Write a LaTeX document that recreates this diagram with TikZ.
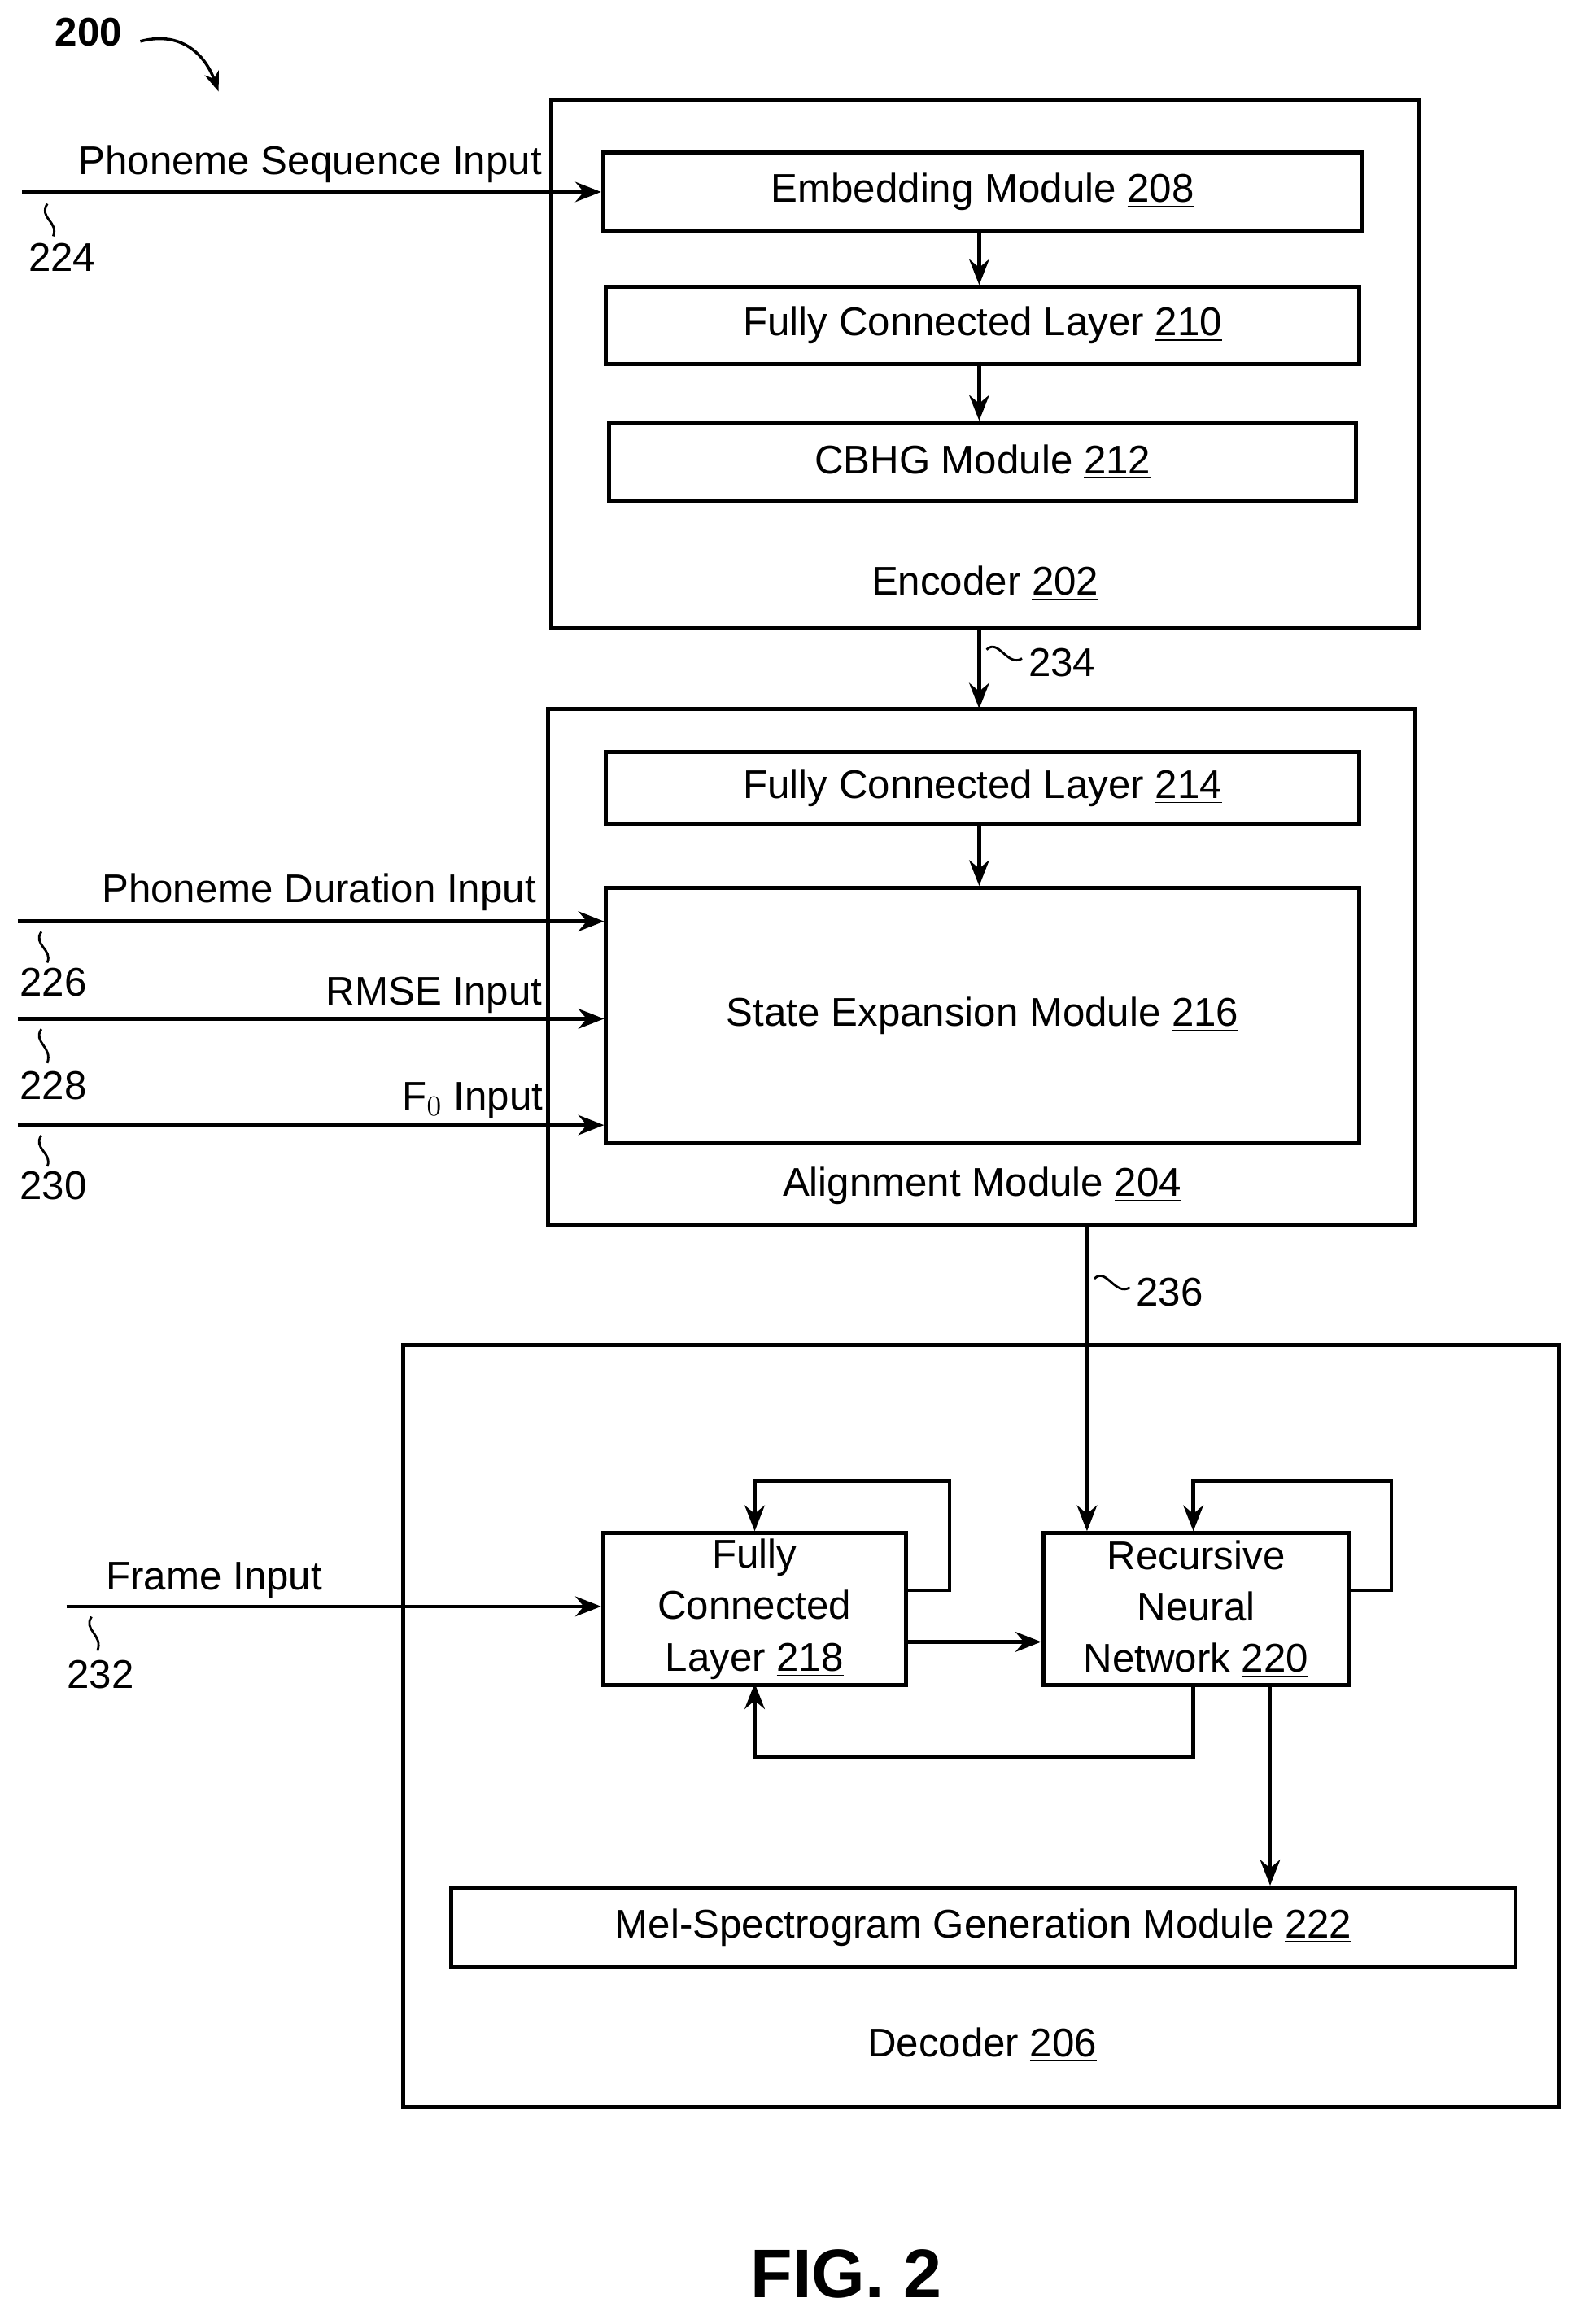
\documentclass[tikz,border=0pt]{standalone}
\usepackage{fontspec}
\setmainfont{Liberation Sans}
\usetikzlibrary{arrows.meta}
\begin{document}
\begin{tikzpicture}[x=0.01815cm,y=-0.01815cm,
 box/.style={draw,line width=1.4pt},
 lbl/.style={font=\fontsize{14}{16}\selectfont,inner sep=0pt},
 arr/.style={line width=1.3pt,-{Stealth[length=9pt,width=7pt]}},
 ln/.style={line width=1.3pt},
 sq/.style={line width=0.8pt}]
\useasboundingbox (0,0) rectangle (1073,1574);
\newcommand{\num}[1]{\underline{#1}}
% Encoder
\draw[box] (373,68) rectangle (961,425);
\node[box,minimum width=514*0.01815cm,minimum height=53*0.01815cm,anchor=north west,lbl] (emb) at (407,102) {Embedding Module \num{208}};
\node[box,minimum width=510*0.01815cm,minimum height=52*0.01815cm,anchor=north west,lbl] (fc210) at (409,193) {Fully Connected Layer \num{210}};
\node[box,minimum width=506*0.01815cm,minimum height=53*0.01815cm,anchor=north west,lbl] (cbhg) at (411,285) {CBHG Module \num{212}};
\node[lbl] (enc) at (667,395) {Encoder \num{202}};
\draw[arr] (663,155) -- (663,193);
\draw[arr] (663,245) -- (663,285);
% Alignment
\draw[box] (371,480) rectangle (958,830);
\node[box,minimum width=510*0.01815cm,minimum height=49*0.01815cm,anchor=north west,lbl] (fc214) at (409,508) {Fully Connected Layer \num{214}};
\node[box,minimum width=510*0.01815cm,minimum height=173*0.01815cm,anchor=north west,lbl] (state) at (409,600) {State Expansion Module \num{216}};
\node[lbl] (ali) at (665,803) {Alignment Module \num{204}};
\draw[arr] (663,557) -- (663,600);
\draw[arr] (663,425) -- (663,480);
\draw[sq] (668,440) .. controls (676,432) and (682,452) .. (692,446);
\node[lbl,anchor=west] (n234) at (696,449) {234};
% inputs
\coordinate (s224) at (15,130);
\draw[arr] (s224) -- (407,130);
\node[lbl] at (210,111) {Phoneme Sequence Input};
\draw[sq] (32,138) .. controls (26,148) and (40,150) .. (36,160);
\node[lbl] at (42,174) {224};
\coordinate (s226) at (12,624);
\draw[arr] (s226) -- (409,624);
\node[lbl] at (216,604) {Phoneme Duration Input};
\draw[sq] (28,631) .. controls (22,640) and (36,643) .. (32,652);
\node[lbl] at (36,665) {226};
\coordinate (s228) at (12,690);
\draw[arr] (s228) -- (409,690);
\node[lbl] at (294,674) {RMSE Input};
\draw[sq] (28,697) .. controls (22,706) and (36,709) .. (32,720);
\node[lbl] at (36,735) {228};
\coordinate (s230) at (12,762);
\draw[arr] (s230) -- (409,762);
\node[lbl] at (320,745) {F$_0$ Input};
\draw[sq] (28,769) .. controls (22,778) and (36,781) .. (32,790);
\node[lbl] at (36,803) {230};
% Decoder
\draw[box] (273,911) rectangle (1056,1427);
\node[box,minimum width=205*0.01815cm,minimum height=103*0.01815cm,anchor=north west,lbl,align=center] (fc218) at (407,1037) {Fully\\[2pt]Connected\\[2pt]Layer \num{218}};
\node[box,minimum width=207*0.01815cm,minimum height=103*0.01815cm,anchor=north west,lbl,align=center] (rnn) at (705,1037) {Recursive\\[2pt]Neural\\[2pt]Network \num{220}};
\node[box,minimum width=721*0.01815cm,minimum height=54*0.01815cm,anchor=north west,lbl] (mel) at (304,1277) {Mel-Spectrogram Generation Module \num{222}};
\node[lbl] (dec) at (665,1385) {Decoder \num{206}};
\draw[arr] (736,830) -- (736,1037);
\draw[sq] (741,866) .. controls (749,858) and (755,878) .. (765,872);
\node[lbl,anchor=west] at (769,875) {236};
\draw[arr] (612,1077) -- (643,1077) -- (643,1003) -- (511,1003) -- (511,1037);
\draw[arr] (912,1077) -- (942,1077) -- (942,1003) -- (808,1003) -- (808,1037);
\draw[arr] (612,1112) -- (705,1112);
\draw[arr] (808,1140) -- (808,1190) -- (511,1190) -- (511,1140);
\draw[arr] (860,1140) -- (860,1277);
\coordinate (s232) at (45,1088);
\draw[arr] (s232) -- (407,1088);
\node[lbl] at (145,1070) {Frame Input};
\draw[sq] (62,1095) .. controls (56,1104) and (70,1107) .. (66,1118);
\node[lbl] at (68,1134) {232};
% title
\node[lbl,font=\bfseries\fontsize{14}{16}\selectfont] at (60,22) {200};
\draw[line width=1pt,-{Stealth[length=7pt]}] (95,28) .. controls (125,20) and (140,40) .. (148,62);
\node[font=\bfseries\fontsize{24}{28}\selectfont] at (573,1540) {FIG. 2};
\end{tikzpicture}
\end{document}
